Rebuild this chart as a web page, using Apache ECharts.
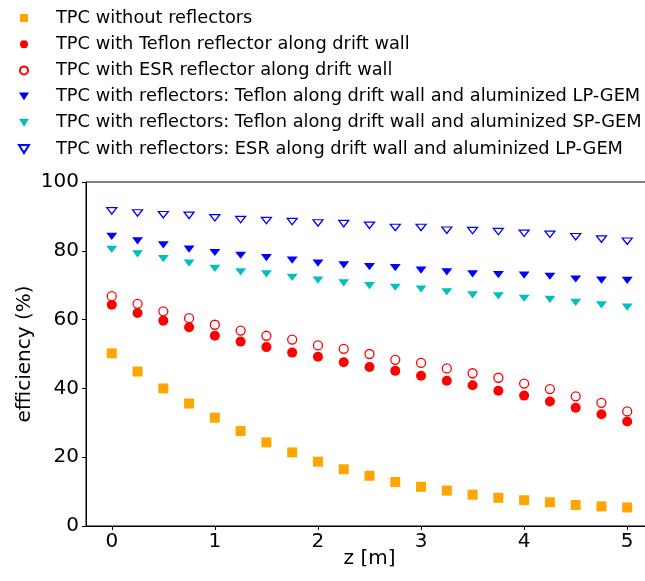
<!DOCTYPE html>
<html>
<head>
<meta charset="utf-8">
<title>efficiency vs z</title>
<script src="https://cdn.jsdelivr.net/npm/echarts@6/dist/echarts.min.js"></script>
<style>
  html, body { margin: 0; padding: 0; background: #fff; }
</style>
</head>
<body>
<div id="main" style="width:645px;height:581px;"></div>
<script type="text/javascript">

var zPos = [0, 0.25, 0.5, 0.75, 1, 1.25, 1.5, 1.75, 2, 2.25, 2.5, 2.75, 3, 3.25, 3.5, 3.75, 4, 4.25, 4.5, 4.75, 5];

var noReflector = [50.2, 44.9, 40.0, 35.6, 31.5, 27.6, 24.3, 21.4, 18.7, 16.5, 14.6, 12.8, 11.4, 10.3, 9.1, 8.2, 7.5, 6.9, 6.1, 5.7, 5.4];
var teflonWall = [64.3, 61.9, 59.7, 57.8, 55.3, 53.6, 52.0, 50.4, 49.2, 47.6, 46.2, 45.1, 43.7, 42.2, 40.9, 39.3, 37.9, 36.2, 34.4, 32.5, 30.4];
var esrWall = [66.8, 64.6, 62.4, 60.4, 58.5, 56.8, 55.3, 54.2, 52.5, 51.5, 50.0, 48.3, 47.4, 45.8, 44.4, 43.1, 41.4, 39.8, 37.7, 35.8, 33.3];
var teflonLP = [84.2, 82.9, 81.7, 80.5, 79.5, 78.7, 78.0, 77.3, 76.4, 75.9, 75.4, 75.1, 74.4, 73.9, 73.3, 73.1, 72.9, 72.6, 71.8, 71.5, 71.4];
var teflonSP = [80.4, 79.1, 77.7, 76.4, 74.9, 73.9, 73.3, 72.3, 71.5, 70.7, 69.9, 69.4, 68.9, 68.1, 67.2, 66.9, 66.2, 65.9, 65.0, 64.3, 63.6];
var esrLP = [91.6, 91.0, 90.5, 90.3, 89.6, 89.1, 88.8, 88.5, 88.1, 87.9, 87.4, 86.8, 86.8, 86.0, 85.9, 85.6, 85.1, 84.8, 84.1, 83.4, 82.8];

var xTicks = [0, 1, 2, 3, 4, 5];

var FONT = 'DejaVu Sans';
// matplotlib-like markers; paths so the legend keeps their aspect
var square = 'path://M0,0L10,0L10,10L0,10Z';
var triDown = 'path://M0,0L10,0L5,8Z';

function pts(vals) {
    return zPos.map(function (z, i) { return [z, vals[i]]; });
}

function makeSeries(name, vals, symbol, size, fill, stroke, bw) {
    return {
        name: name,
        type: 'scatter',
        data: pts(vals),
        symbol: symbol,
        symbolSize: size,
        symbolKeepAspect: true,
        itemStyle: {
            color: fill,
            borderColor: stroke,
            borderWidth: bw,
            opacity: 1
        },
        emphasis: { disabled: true }
    };
}

var myChart = echarts.init(document.getElementById('main'));

var option = {
    animation: false,
    backgroundColor: '#fff',
    legend: {
        orient: 'vertical',
        left: 18,
        top: 9,
        padding: 0,
        itemWidth: 54,
        itemHeight: 8,
        itemGap: 8.2,
        textStyle: { fontFamily: FONT, fontSize: 17.8, lineHeight: 18, color: '#000' },
        data: [
            'TPC without reflectors',
            'TPC with Teflon reflector along drift wall',
            'TPC with ESR reflector along drift wall',
            'TPC with reflectors: Teflon along drift wall and aluminized LP-GEM',
            'TPC with reflectors: Teflon along drift wall and aluminized SP-GEM',
            'TPC with reflectors: ESR along drift wall and aluminized LP-GEM'
        ]
    },
    grid: {
        left: 86,
        top: 182,
        width: 567,
        height: 344,
        show: true,
        borderColor: '#000',
        borderWidth: 1,
        outerBoundsMode: 'none',
        containLabel: false
    },
    xAxis: {
        type: 'value',
        min: -0.25,
        max: 5.25,
        name: 'z [m]',
        nameLocation: 'middle',
        nameGap: 23,
        nameMoveOverlap: false,
        nameTextStyle: { fontFamily: FONT, fontSize: 20, color: '#000' },
        axisLine: { show: true, onZero: false, lineStyle: { color: '#000', width: 1 } },
        axisTick: { show: true, inside: false, length: 4, customValues: xTicks, lineStyle: { color: '#000' } },
        axisLabel: { customValues: xTicks, margin: 6, fontFamily: FONT, fontSize: 20, color: '#000' },
        splitLine: { show: false }
    },
    yAxis: {
        type: 'value',
        min: 0,
        max: 100,
        interval: 20,
        name: 'efficiency (%)',
        nameLocation: 'middle',
        nameGap: 51,
        nameRotate: 90,
        nameMoveOverlap: false,
        nameTextStyle: { fontFamily: FONT, fontSize: 20, color: '#000' },
        axisLine: { show: true, onZero: false, lineStyle: { color: '#000', width: 1 } },
        axisTick: { show: true, inside: false, length: 4, lineStyle: { color: '#000' } },
        axisLabel: { margin: 7, fontFamily: FONT, fontSize: 20, color: '#000' },
        splitLine: { show: false }
    },
    series: [
        makeSeries('TPC without reflectors', noReflector, square, 10, '#FFA500', '#FFA500', 0),
        makeSeries('TPC with Teflon reflector along drift wall', teflonWall, 'circle', 10, '#FF0000', '#FF0000', 0),
        makeSeries('TPC with ESR reflector along drift wall', esrWall, 'circle', 9, '#fff', '#FF0000', 1.3),
        makeSeries('TPC with reflectors: Teflon along drift wall and aluminized LP-GEM', teflonLP, triDown, [11, 9], '#0000FF', '#0000FF', 0),
        makeSeries('TPC with reflectors: Teflon along drift wall and aluminized SP-GEM', teflonSP, triDown, [11, 9], '#00BFBF', '#00BFBF', 0),
        makeSeries('TPC with reflectors: ESR along drift wall and aluminized LP-GEM', esrLP, triDown, [10, 8], '#fff', '#0000FF', 1.3)
    ]
};

myChart.setOption(option);

</script>
</body>
</html>
